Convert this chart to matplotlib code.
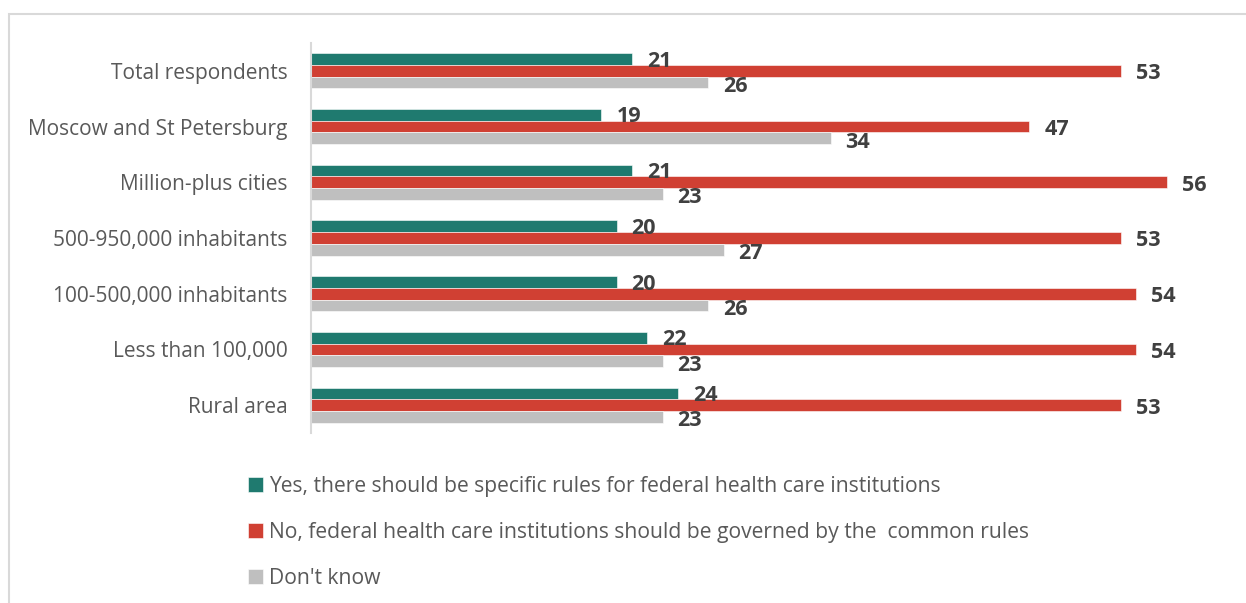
import matplotlib
matplotlib.use("Agg")
import matplotlib.pyplot as plt
import matplotlib.patches as mpatches
import numpy as np

categories = [
    "Total respondents",
    "Moscow and St Petersburg",
    "Million-plus cities",
    "500-950,000 inhabitants",
    "100-500,000 inhabitants",
    "Less than 100,000",
    "Rural area",
]
yes_vals = [21, 19, 21, 20, 20, 22, 24]
no_vals = [53, 47, 56, 53, 54, 54, 53]
dont_know_vals = [26, 34, 23, 27, 26, 23, 23]
series_labels = [
    "Yes, there should be specific rules for federal health care institutions",
    "No, federal health care institutions should be governed by the  common rules",
    "Don't know",
]
colors = ["#1f7a6f", "#d04033", "#bfbfbf"]

W, H = 1246, 603
fig = plt.figure(figsize=(W / 100, H / 100), dpi=100)
plt.rcParams["font.family"] = ["Open Sans", "DejaVu Sans"]

# axes placed in pixel terms: left edge on the category axis line
x0, y_top, y_bot = 311, 43, 433
xmax = 60
px_per_unit = 810 / 53
ax = fig.add_axes([x0 / W, 1 - y_bot / H, xmax * px_per_unit / W, (y_bot - y_top) / H])

y = np.arange(len(categories))
h = 0.21
bars = []
for k, (vals, col) in enumerate(zip([yes_vals, no_vals, dont_know_vals], colors)):
    yy = y + (k - 1) * h
    b = ax.barh(yy, vals, height=h, color=col, edgecolor="white", linewidth=0.4,
                label=series_labels[k])
    bars.append(b)
    for v, yi in zip(vals, yy):
        ax.annotate(str(v), (v, yi), xytext=(15, -2 - k), textcoords="offset pixels",
                    ha="left", va="center", fontsize=15.5, fontweight="bold",
                    color="#404040", annotation_clip=False)

ax.set_ylim(len(categories) - 0.5, -0.5)
ax.set_xlim(0, xmax)
ax.set_yticks(y)
ax.set_yticklabels(categories, fontsize=15, color="#595959")
ax.tick_params(axis="y", length=0, pad=17)
ax.set_xticks([])
for s in ["top", "right", "bottom"]:
    ax.spines[s].set_visible(False)
ax.spines["left"].set_color("#d9d9d9")
ax.spines["left"].set_linewidth(1.5)

fig.legend(handles=bars, loc="upper left", bbox_to_anchor=(248 / W, 1 - 476 / H),
           frameon=False, fontsize=15.2, labelcolor="#595959",
           handlelength=0.7, handleheight=0.7, handletextpad=0.3,
           labelspacing=1.18, borderpad=0, borderaxespad=0)

# outer chart border, running off the right and bottom edges
fig.patches.append(mpatches.Rectangle((8.5 / W, -0.1), 1.2, 1 - 14 / H + 0.1,
                                      transform=fig.transFigure, fill=False,
                                      edgecolor="#d9d9d9", linewidth=1.5))

fig.savefig("out.png", dpi=100)
